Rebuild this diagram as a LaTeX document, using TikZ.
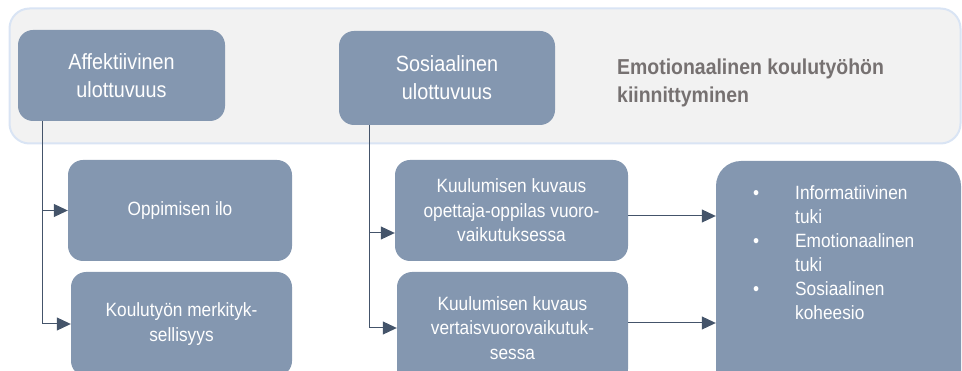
\documentclass[tikz,border=0pt]{standalone}
\usepackage{fontspec}
\setmainfont{Liberation Sans}
\newfontfamily\narrowsans[FakeStretch=0.9]{Liberation Sans}
\usetikzlibrary{arrows.meta}
\definecolor{boxfill}{HTML}{8497B0}
\definecolor{bgfill}{HTML}{F2F2F2}
\definecolor{bgline}{HTML}{D9E4F4}
\definecolor{arrowc}{HTML}{44546A}
\definecolor{titlec}{HTML}{767171}
\begin{document}
\begin{tikzpicture}[x=1pt,y=-1pt,
 box/.style={draw=none, fill=boxfill, rounded corners=15pt, text=white, align=center, inner sep=0pt},
 bigtxt/.style={font=\narrowsans\fontsize{22}{28}\selectfont},
 smalltxt/.style={font=\narrowsans\fontsize{19.2}{24.5}\selectfont},
 arr/.style={draw=arrowc, line width=1pt, -{Triangle[length=14pt,width=13pt]}}]
\useasboundingbox (0,0) rectangle (962,371);
\clip (0,0) rectangle (962,371);
\node[draw=bgline, fill=bgfill, line width=2pt, rounded corners=20pt, minimum width=951pt, minimum height=135pt, inner sep=0pt] (bg) at (485,76) {};
\node[box, bigtxt, minimum width=207pt, minimum height=91pt] (aff) at (121.5,75.5) {Affektiivinen\\ulottuvuus};
\node[box, bigtxt, minimum width=216pt, minimum height=94pt] (sos) at (447,78) {Sosiaalinen\\ulottuvuus};
\node[anchor=west, inner sep=0pt, text=titlec, font=\narrowsans\bfseries\fontsize{21.6}{28}\selectfont, align=left] (title) at (617,83) {Emotionaalinen koulutyöhön\\kiinnittyminen};
\node[box, smalltxt, minimum width=224pt, minimum height=101pt] (opp) at (180,210.5) {Oppimisen ilo};
\node[box, smalltxt, minimum width=221pt, minimum height=104pt] (kou) at (181.5,324) {Koulutyön merkityk-\\sellisyys};
\node[box, smalltxt, minimum width=233pt, minimum height=101pt] (k1) at (511.5,210.5) {Kuulumisen kuvaus\\opettaja-oppilas vuoro-\\vaikutuksessa};
\node[box, smalltxt, minimum width=231pt, minimum height=112pt] (k2) at (512.5,328) {Kuulumisen kuvaus\\vertaisvuorovaikutuk-\\sessa};
\node[box, rounded corners=25pt, minimum width=245pt, minimum height=239pt] (rb) at (838.5,280.5) {};
\node[anchor=north west, inner sep=0pt, text=white, align=left, font=\narrowsans\fontsize{19.2}{24}\selectfont] (rbtext) at (795,185) {\llap{•\hspace{36pt}}Informatiivinen\\tuki\\\llap{•\hspace{36pt}}Emotionaalinen\\tuki\\\llap{•\hspace{36pt}}Sosiaalinen\\koheesio};
\coordinate (affdown) at ([xshift=25pt]aff.south west);
\coordinate (sosdown) at ([xshift=31pt]sos.south west);
\draw[arr] (affdown) |- (opp.west);
\draw[arr] (affdown) |- (kou.west);
\draw[arr] (sosdown) |- ([yshift=-22.5pt]k1.west);
\draw[arr] (sosdown) |- (k2.west);
\draw[arr] ([yshift=-5.5pt]k1.east) -- ([yshift=-5.5pt]k1.east -| rb.west);
\draw[arr] ([yshift=5pt]k2.east) -- ([yshift=5pt]k2.east -| rb.west);
\end{tikzpicture}
\end{document}
